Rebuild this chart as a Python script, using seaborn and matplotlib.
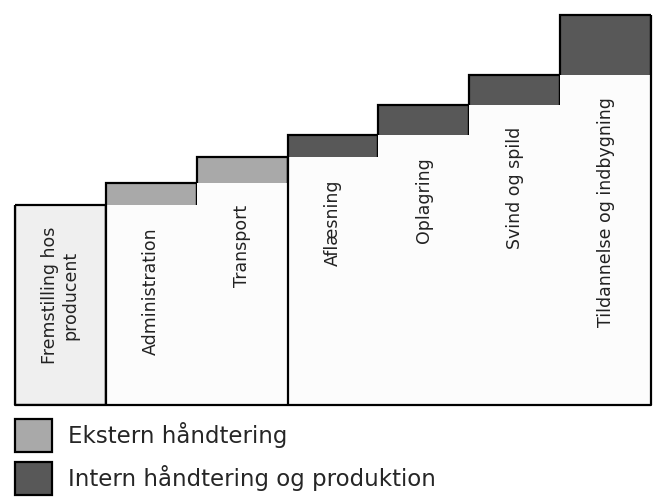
import numpy as np
import pandas as pd
import matplotlib.pyplot as plt
from matplotlib.patches import Patch
import seaborn as sns

# --- DATA (arbitrary cost units) ---
trin = ['Fremstilling hos\nproducent', 'Administration', 'Transport', 'Aflæsning',
        'Oplagring', 'Svind og spild', 'Tildannelse og indbygning']
tilvaekst = [100, 11, 13, 11, 15, 15, 30]
kategori = ['Producent', 'Ekstern', 'Ekstern', 'Intern', 'Intern', 'Intern', 'Intern']
legend_labels = {'Ekstern': 'Ekstern håndtering',
                 'Intern': 'Intern håndtering og produktion'}

df = pd.DataFrame({'trin': trin, 'tilvaekst': tilvaekst, 'kategori': kategori})
df['top'] = df['tilvaekst'].cumsum()
df['base'] = df['top'] - df['tilvaekst']

palette = {'Producent': '#efefef', 'Ekstern': '#a9a9a9', 'Intern': '#585858'}
FILL = '#fcfcfc'
LW = 1.6

sns.set_style('white')
plt.rcParams['font.family'] = ['DejaVu Sans']

fig = plt.figure(figsize=(6.54, 4.99), dpi=100)
ax = fig.add_axes([15 / 654, 94 / 499, 636 / 654, 400 / 499])

# full height bars in segment colour, then blank the part below each step
sns.barplot(data=df, x='trin', y='top', hue='kategori', palette=palette, dodge=False,
            width=1, edgecolor='black', linewidth=LW, errorbar=None, legend=False, ax=ax)
sns.barplot(data=df.iloc[1:], x='trin', y='base', order=trin, color=FILL, width=1,
            linewidth=0, errorbar=None, ax=ax)

# outline the groups (producer / external / internal)
for i in range(1, len(df)):
    if df['kategori'][i] != df['kategori'][i - 1]:
        ax.vlines(i - 0.5, 0, df['base'][i], color='black', lw=LW, clip_on=False)
ax.vlines(-0.5, 0, df['top'][0], color='black', lw=LW, clip_on=False)
ax.vlines(len(df) - 0.5, 0, df['top'].iloc[-1], color='black', lw=LW, clip_on=False)
ax.axhline(0, color='black', lw=LW, clip_on=False)

# rotated labels under each step
for i, row in df.iterrows():
    y = row['top'] if i == 0 else row['base']
    ax.text(i, y - 11, row['trin'], rotation=90, ha='center', va='top',
            multialignment='center', fontsize=12.5, color='#222222')

ax.set_xlim(-0.5, len(df) - 0.5)
ax.set_ylim(0, 200)
ax.set_axis_off()

handles = [Patch(facecolor=palette[k], edgecolor='black', linewidth=LW) for k in legend_labels]
fig.legend(handles, list(legend_labels.values()), loc='upper left',
           bbox_to_anchor=(15 / 654, 1 - 419 / 499), frameon=False, fontsize=16.5,
           handlelength=1.62, handleheight=1.84, labelspacing=0.44, handletextpad=0.7,
           borderpad=0, borderaxespad=0)

fig.savefig('out.png', dpi=100, facecolor='white')
